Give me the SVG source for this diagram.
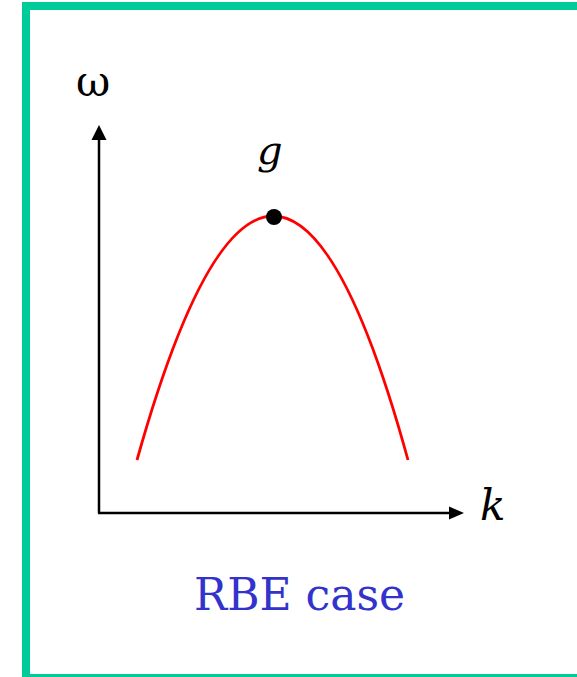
<svg xmlns="http://www.w3.org/2000/svg" width="577" height="677" viewBox="0 0 577 677">
  <style>
    .axis { stroke: #000; stroke-width: 2.5; fill: none; }
    text { font-family: 'DejaVu Serif', 'Liberation Serif', serif; }
  </style>
  <rect x="0" y="0" width="577" height="677" fill="#fff"/>
  <rect x="26" y="6" width="600" height="672" fill="none" stroke="#00cc99" stroke-width="8"/>
  <g id="connectors">
    <path class="axis" d="M99,513 L99,140"/>
    <path d="M91.5,140 L99,125 L106.5,140 Z" fill="#000"/>
    <path class="axis" d="M98,513 L449,513"/>
    <path d="M449,506.5 L464,513 L449,519.5 Z" fill="#000"/>
  </g>
  <g id="curve">
    <path d="M137,460 Q274,-28 408,460" fill="none" stroke="#ff0000" stroke-width="2.8"/>
  </g>
  <g id="point-g">
    <circle cx="274" cy="217" r="8" fill="#000"/>
    <text x="257" y="164" font-size="40" font-style="italic" fill="#000">g</text>
  </g>
  <g id="label-omega">
    <text x="76" y="96" font-size="42" fill="#000">ω</text>
  </g>
  <g id="label-k">
    <text x="480" y="520" font-size="42" font-style="italic" fill="#000">k</text>
  </g>
  <g id="caption">
    <text x="194" y="610" font-size="44" fill="#3333cc">RBE case</text>
  </g>
</svg>
